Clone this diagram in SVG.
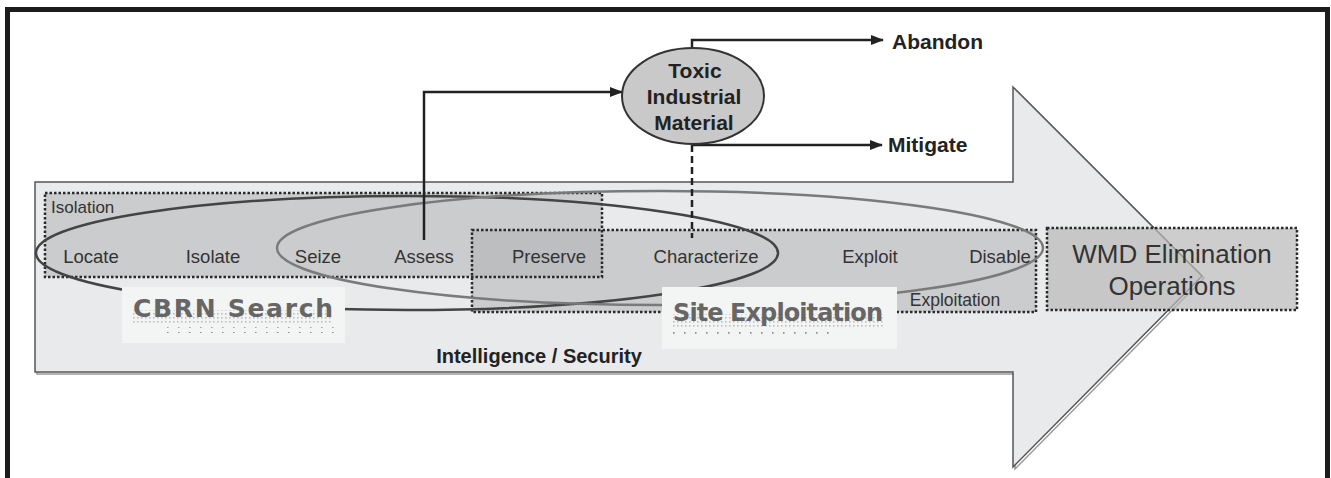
<svg xmlns="http://www.w3.org/2000/svg" width="1331" height="478" viewBox="0 0 1331 478">
<style>
.lbl{font-family:"Liberation Sans",Arial,sans-serif;font-size:18.5px;fill:#333;text-anchor:middle}
.bold{font-family:"Liberation Sans",Arial,sans-serif;font-weight:bold;fill:#222}
.dotrect{fill:none;stroke:#2a2a2a;stroke-width:2.5;stroke-dasharray:2.5 2}
.conn{fill:none;stroke:#222;stroke-width:2.5}
.tag{font-family:"DejaVu Sans",sans-serif;font-weight:bold;fill:#666}
</style>
<defs>
<marker id="ah" markerUnits="userSpaceOnUse" markerWidth="13" markerHeight="13" viewBox="0 0 13 13" refX="12" refY="6.5" orient="auto">
<path d="M0,1.5 L13,6.5 L0,11.5 Z" fill="#222"/>
</marker>
<pattern id="dots" width="4" height="4" patternUnits="userSpaceOnUse">
<rect x="1" y="1" width="1.6" height="1.6" fill="#8a8a8a"/>
</pattern>
<pattern id="sparse" width="11" height="6" patternUnits="userSpaceOnUse">
<rect x="2" y="2" width="1.6" height="1.8" fill="#777"/>
</pattern>
</defs>
<rect width="1331" height="478" fill="#fff"/>
<path d="M7.5,478 V9.5 H1327.5 V478" fill="none" stroke="#1c1c1c" stroke-width="5"/>

<g id="arrow">
<path d="M37,184 H1015 V89 L1204,278 L1015,469 V374 H37 Z" fill="none" stroke="#999" stroke-width="1.5"/>
<path d="M35,182 H1013 V87 L1202,276 L1013,467 V372 H35 Z" fill="#e9eaeb" stroke="#555" stroke-width="1.5"/>
</g>

<g id="isolation">
<rect x="45" y="193" width="557" height="84" fill="#cbcccd"/>
</g>
<g id="exploitation">
<rect x="472" y="230" width="564" height="82" fill="#cbcccd"/>
<rect x="472" y="230" width="130" height="47" fill="#bdbebf"/>
<rect x="472" y="230" width="564" height="82" class="dotrect"/>
<text x="955" y="306" class="lbl" style="font-size:17.5px">Exploitation</text>
</g>
<g id="isolation-frame">
<rect x="45" y="193" width="557" height="84" class="dotrect"/>
<text x="51" y="213" class="lbl" style="font-size:17px;text-anchor:start">Isolation</text>
</g>

<g id="cbrn-ellipse">
<ellipse cx="407" cy="253" rx="371" ry="57" fill="none" stroke="#444" stroke-width="2.5"/>
</g>
<g id="site-ellipse">
<ellipse cx="660" cy="248" rx="383" ry="57" fill="none" stroke="#7a7a7a" stroke-width="2.5"/>
</g>

<g id="labels">
<text x="91" y="263" class="lbl">Locate</text>
<text x="213" y="263" class="lbl">Isolate</text>
<text x="318" y="263" class="lbl">Seize</text>
<text x="424" y="263" class="lbl">Assess</text>
<text x="549" y="263" class="lbl">Preserve</text>
<text x="706" y="263" class="lbl">Characterize</text>
<text x="870" y="263" class="lbl">Exploit</text>
<text x="1000" y="263" class="lbl">Disable</text>
</g>

<g id="cbrn-search">
<rect x="122" y="287" width="223" height="56" fill="#f3f4f4"/>
<rect x="133" y="310" width="200" height="14" fill="url(#dots)" opacity="0.5"/>
<rect x="160" y="327" width="175" height="6" fill="url(#sparse)" opacity="0.8"/>
<text x="133" y="317" class="tag" style="font-size:25px" textLength="200" lengthAdjust="spacing">CBRN Search</text>
</g>

<g id="site-exploitation">
<rect x="662" y="287" width="235" height="62" fill="#f3f4f4"/>
<rect x="673" y="314" width="210" height="14" fill="url(#dots)" opacity="0.5"/>
<rect x="673" y="331" width="160" height="6" fill="url(#sparse)" opacity="0.8"/>
<text x="673" y="321" class="tag" style="font-size:24px" textLength="210" lengthAdjust="spacing">Site Exploitation</text>
</g>

<g id="intel">
<text x="539" y="363" class="bold" style="font-size:20px;text-anchor:middle">Intelligence / Security</text>
</g>

<g id="wmd">
<rect x="1047" y="228" width="250" height="82" class="dotrect" style="fill:#b8b8b8;fill-opacity:0.7"/>
<text x="1172" y="263" class="lbl" style="font-size:26px">WMD Elimination</text>
<text x="1172" y="295" class="lbl" style="font-size:26px">Operations</text>
</g>

<g id="connectors">
<path d="M424,240 V92 H622" class="conn" marker-end="url(#ah)"/>
<path d="M692,48 V40 H883" class="conn" marker-end="url(#ah)"/>
<path d="M692,145 H882" class="conn" marker-end="url(#ah)"/>
<path d="M692,145 V238" class="conn" stroke-dasharray="7 4"/>
</g>

<g id="tim">
<ellipse cx="693" cy="96" rx="71" ry="48" fill="#c9c9c9" stroke="#333" stroke-width="2"/>
<text x="695" y="78" class="bold" style="font-size:21px;text-anchor:middle">Toxic</text>
<text x="694" y="104" class="bold" style="font-size:21px;text-anchor:middle">Industrial</text>
<text x="694" y="130" class="bold" style="font-size:21px;text-anchor:middle">Material</text>
</g>

<g id="abandon">
<text x="892" y="49" class="bold" style="font-size:21px">Abandon</text>
</g>
<g id="mitigate">
<text x="888" y="152" class="bold" style="font-size:21px">Mitigate</text>
</g>
</svg>
